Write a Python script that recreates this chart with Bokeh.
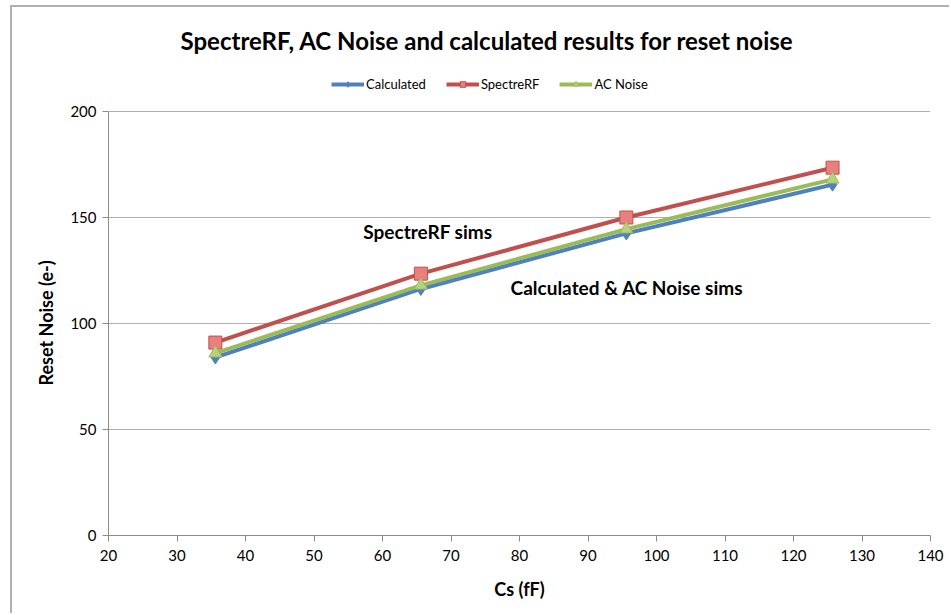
from bokeh.plotting import figure
from bokeh.models import Legend, LegendItem, FixedTicker, Title
from bokeh.core.properties import value
from bokeh.embed import file_html
from bokeh.resources import INLINE

cs = [35.6, 65.6, 95.6, 125.7]
calculated = [84.0, 116.3, 142.5, 165.5]
spectrerf = [91.0, 123.5, 150.0, 173.5]
ac_noise = [86.0, 118.0, 144.5, 168.0]
x_ticks = [20, 30, 40, 50, 60, 70, 80, 90, 100, 110, 120, 130, 140]
y_ticks = [0, 50, 100, 150, 200]
notes = ["SpectreRF sims", "Calculated & AC Noise sims"]
note_x = [57.2, 78.7]
note_y = [143.4, 117.0]

FONT = "Lato"

# frame extends above the 200 gridline to host the legend; axis is bounded at 0..200
p = figure(width=939, height=608, output_backend="svg", toolbar_location=None,
           x_range=(20, 140), y_range=(0, 224.06),
           min_border_left=96, min_border_right=21, min_border_top=53, min_border_bottom=80)
p.styles = {"margin-left": "10px", "margin-top": "5px",
            "border-left": "2px solid #b0b0b0", "border-top": "2px solid #b0b0b0"}
p.outline_line_color = None
p.background_fill_color = "white"
p.border_fill_color = "white"

t = Title(text="SpectreRF, AC Noise and calculated results for reset noise",
          align="left", text_font=FONT, text_font_size="24px", text_font_style="bold",
          text_color="black", offset=72, standoff=12, text_line_height=0.9)
p.add_layout(t, "above")

ylab = Title(text="Reset Noise (e-)", align="left", text_font=FONT, text_font_size="18px",
             text_font_style="bold", text_color="black", offset=150, standoff=22)
p.add_layout(ylab, "left")

p.xgrid.visible = False
p.ygrid.grid_line_color = "#b0b0b0"
p.ygrid.grid_line_width = 1
p.xaxis.ticker = FixedTicker(ticks=x_ticks)
p.yaxis.ticker = FixedTicker(ticks=y_ticks)
p.yaxis.bounds = (0, 200)
for ax in (p.xaxis[0], p.yaxis[0]):
    ax.axis_line_color = "#8c8c8c"
    ax.axis_line_width = 1
    ax.major_tick_line_color = "#8c8c8c"
    ax.major_tick_out = 6
    ax.major_tick_in = 0
    ax.minor_tick_line_color = None
    ax.major_label_text_font = FONT
    ax.major_label_text_font_size = "15px"
    ax.major_label_text_color = "black"
    ax.axis_label_text_font = FONT
    ax.axis_label_text_font_size = "18px"
    ax.axis_label_text_font_style = "bold"
    ax.axis_label_text_color = "black"
p.xaxis.axis_label = "Cs (fF)"
p.xaxis.major_label_standoff = 8
p.xaxis.axis_label_standoff = 14
p.yaxis.major_label_standoff = 6

series = [
    ("Calculated", calculated, "#4f81bd", "diamond", "#4f81bd", 13),
    ("SpectreRF", spectrerf, "#c0504d", "square", "#e8807e", 13),
    ("AC Noise", ac_noise, "#9bbb59", "triangle", "#b6d27e", 13),
]
items = []
for name, ys, col, mk, fill, sz in series:
    l = p.line(cs, ys, line_color=col, line_width=4)
    m = p.scatter(cs, ys, marker=mk, size=sz, fill_color=fill, line_color=col, line_width=1)
    items.append(LegendItem(label=name, renderers=[l, m]))

legend = Legend(items=items, orientation="horizontal", location=(223, 443),
                label_text_font=FONT, label_text_font_size="13px", label_text_color="black",
                glyph_width=33, glyph_height=14, label_standoff=2, spacing=20,
                border_line_color=None, background_fill_alpha=0, margin=0, padding=4)
p.add_layout(legend, "center")

p.text(x=note_x, y=note_y, text=notes, text_font=value(FONT), text_font_size="19px",
       text_font_style="bold", text_color="black", text_baseline="middle", text_align="left")

open("out.html", "w").write(file_html(p, INLINE))
